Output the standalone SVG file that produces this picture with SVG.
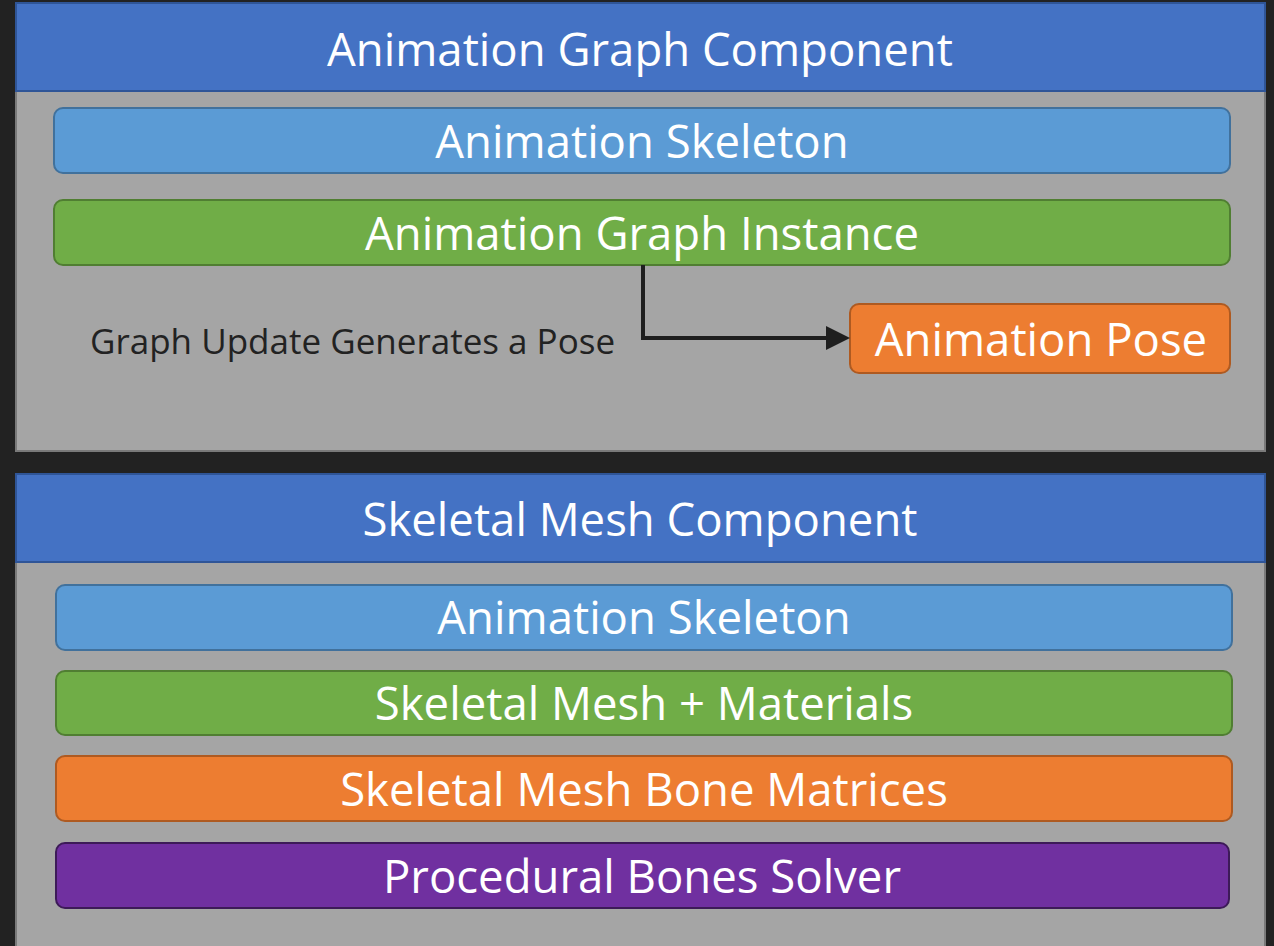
<svg xmlns="http://www.w3.org/2000/svg" width="1274" height="946" viewBox="0 0 1274 946">
<defs>
<style>
.panel{fill:#a5a5a5;stroke:#7a7a7a;stroke-width:2}
.title{fill:#4472c4;stroke:#2f5597;stroke-width:2}
.t{font-family:"Open Sans","Noto Sans",sans-serif;fill:#fff;text-anchor:middle;font-size:45.5px}
.blue{fill:#5b9bd5;stroke:#41719c;stroke-width:2}
.green{fill:#70ad47;stroke:#507e32;stroke-width:2}
.orange{fill:#ed7d31;stroke:#ae5a21;stroke-width:2}
.purple{fill:#7030a0;stroke:#3d1a58;stroke-width:2}
.lbl{font-family:"Open Sans","Noto Sans",sans-serif;fill:#222;font-size:35px}
</style>
<marker id="arr" markerWidth="6" markerHeight="6" refX="5" refY="3" orient="auto" markerUnits="strokeWidth">
<path d="M0,0 L6,3 L0,6 z" fill="#1f1f1f"/>
</marker>
</defs>
<rect width="1274" height="946" fill="#222"/>
<g id="panel1">
<rect class="panel" x="16" y="3" width="1249" height="448"/>
<rect class="title" x="16" y="3" width="1249" height="88"/>
<text class="t" x="640" y="66">Animation Graph Component</text>
</g>
<g id="skeleton1">
<rect class="blue" x="54" y="108" width="1176" height="65" rx="9"/>
<text class="t" x="642" y="158">Animation Skeleton</text>
</g>
<g id="graphInstance">
<rect class="green" x="54" y="200" width="1176" height="65" rx="9"/>
<text class="t" x="642" y="250">Animation Graph Instance</text>
</g>
<g id="pose">
<rect class="orange" x="850" y="304" width="380" height="69" rx="9"/>
<text class="t" x="1041" y="356">Animation Pose</text>
</g>
<g id="label">
<text class="lbl" x="90" y="354">Graph Update Generates a Pose</text>
</g>
<g id="connectors">
<path d="M643,265 V338 H846" fill="none" stroke="#1f1f1f" stroke-width="4" marker-end="url(#arr)"/>
</g>
<g id="panel2">
<rect class="panel" x="16" y="474" width="1249" height="480"/>
<rect class="title" x="16" y="474" width="1249" height="88"/>
<text class="t" x="640" y="536">Skeletal Mesh Component</text>
</g>
<g id="skeleton2">
<rect class="blue" x="56" y="585" width="1176" height="65" rx="9"/>
<text class="t" x="644" y="634">Animation Skeleton</text>
</g>
<g id="mesh">
<rect class="green" x="56" y="671" width="1176" height="64" rx="9"/>
<text class="t" x="644" y="720">Skeletal Mesh + Materials</text>
</g>
<g id="bones">
<rect class="orange" x="56" y="756" width="1176" height="65" rx="9"/>
<text class="t" x="644" y="806">Skeletal Mesh Bone Matrices</text>
</g>
<g id="solver">
<rect class="purple" x="56" y="843" width="1173" height="65" rx="9"/>
<text class="t" x="642" y="893">Procedural Bones Solver</text>
</g>
</svg>
